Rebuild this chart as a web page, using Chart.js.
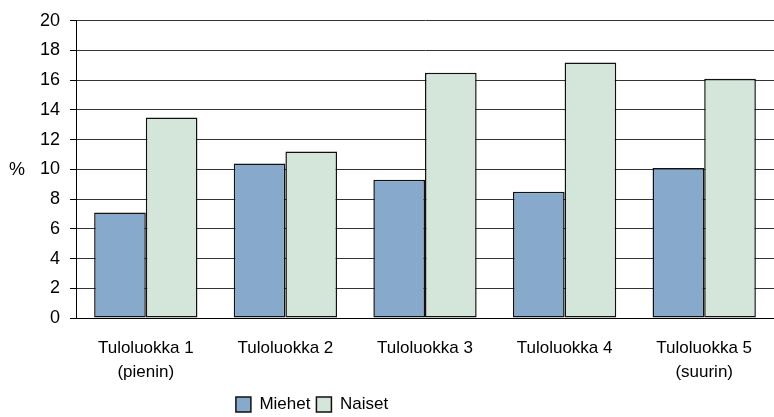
<!DOCTYPE html>
<html lang="fi">
<head>
<meta charset="utf-8">
<title>Tuloluokat</title>
<script src="https://cdn.jsdelivr.net/npm/chart.js@4"></script>
<style>
  body { margin: 0; background: #fff; }
  #cadre { width: 774px; height: 417px; }
</style>
</head>
<body>
<div id="cadre"><canvas id="myChartTulo" width="774" height="417"></canvas></div>
<script>
//? Données du graphique.

const categories = [
  ["Tuloluokka 1", "(pienin)"],
  "Tuloluokka 2",
  "Tuloluokka 3",
  "Tuloluokka 4",
  ["Tuloluokka 5", "(suurin)"],
];
const valeursMiehet = [7.1, 10.4, 9.3, 8.5, 10.1];
const valeursNaiset = [13.5, 11.2, 16.5, 17.2, 16.1];
const labelsSeries = ["Miehet", "Naiset"];
const titreAxeY = "%";
const minY = 0;
const maxY = 20;
const pasY = 2;

//? -------------------------------------------------

//? Plugin : "%" horizontal à gauche + légende décalée.

const pluginTitreY = {
  id: "titreY",
  afterLayout: (chart) => {
    const legende = chart.legend;
    if (legende) {
      legende.left = 0;
      legende.right = 624;
      legende.width = 624;
      legende.top += 6;
      legende.bottom += 6;
    }
  },
  afterDraw: (chart) => {
    const ctx = chart.ctx;
    const y = chart.scales.y.getPixelForValue(10);
    ctx.save();
    ctx.fillStyle = "#000";
    ctx.font = "18px 'Liberation Sans', Arial, sans-serif";
    ctx.textAlign = "left";
    ctx.textBaseline = "middle";
    ctx.fillText(titreAxeY, 9, y + 1);
    ctx.restore();
  },
};

//? -------------------------------------------------

//? Construction du graphique.

const constructionDuGraphique = () => {
  try {
    const ctx = document.getElementById("myChartTulo").getContext("2d");
    const famille = "'Liberation Sans', Arial, sans-serif";

    const data = {
      labels: categories,
      datasets: [
        {
          label: labelsSeries[0],
          data: valeursMiehet,
          backgroundColor: "#87a9cb",
          borderColor: "#111",
          borderWidth: 1.5,
          borderSkipped: false,
        },
        {
          label: labelsSeries[1],
          data: valeursNaiset,
          backgroundColor: "#d4e5da",
          borderColor: "#111",
          borderWidth: 1.5,
          borderSkipped: false,
        },
      ],
    };

    const options = {
      responsive: false,
      animation: { duration: 0 },
      layout: { padding: { top: 19, left: 0, right: 0, bottom: 0 } },
      datasets: {
        bar: { categoryPercentage: 0.74, barPercentage: 1 },
      },
      scales: {
        x: {
          grid: { display: false, drawTicks: false },
          border: { display: true, color: "#000", width: 1 },
          ticks: {
            color: "#000",
            font: { family: famille, size: 17, lineHeight: 1.38 },
            padding: 19,
            maxRotation: 0,
            autoSkip: false,
          },
          afterFit: (scale) => {
            scale.height = 66;
          },
        },
        y: {
          min: minY,
          max: maxY,
          grid: {
            color: "#333",
            tickColor: "#000",
            tickLength: 6,
          },
          border: { display: true, color: "#000", width: 1 },
          ticks: {
            stepSize: pasY,
            color: "#000",
            font: { family: famille, size: 18 },
            padding: 10,
          },
          afterFit: (scale) => {
            scale.width = 76;
          },
        },
      },
      plugins: {
        tooltip: { enabled: false },
        legend: {
          position: "bottom",
          labels: {
            color: "#000",
            font: { family: famille, size: 17 },
            boxWidth: 15,
            boxHeight: 15,
            padding: 6,
          },
        },
      },
    };

    new Chart(ctx, { type: "bar", data, options, plugins: [pluginTitreY] });
  } catch (error) {
    console.error("🔴 ERROR | Construction graphique :", error);
  }
};

constructionDuGraphique();
</script>
</body>
</html>
